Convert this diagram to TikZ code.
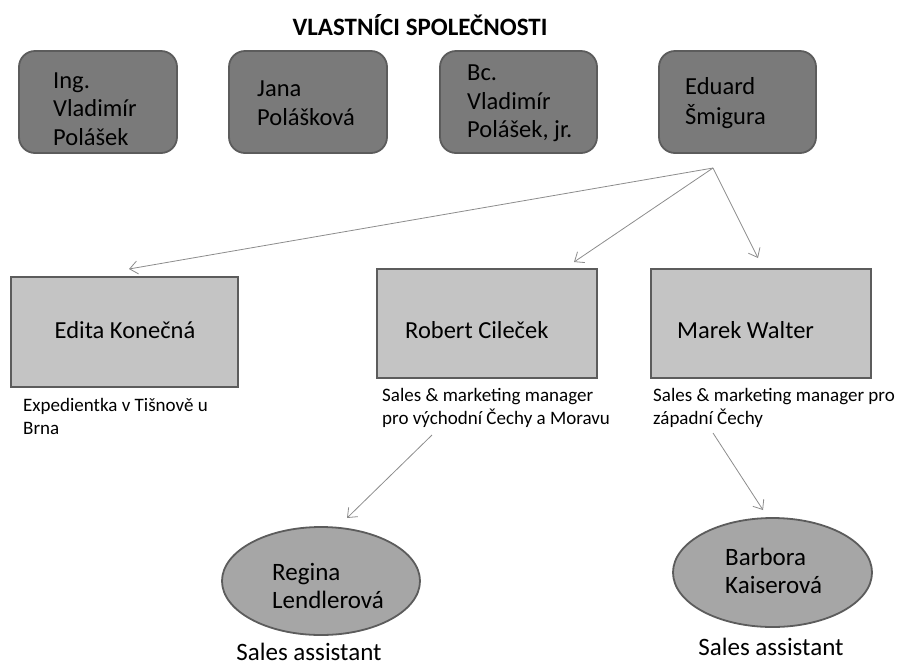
\documentclass[tikz,border=0pt]{standalone}
\usepackage{fontspec}
\setmainfont{Carlito}
\usetikzlibrary{arrows.meta,shapes.geometric}
\definecolor{ownerfill}{HTML}{7A7A7A}
\definecolor{ownerdraw}{HTML}{5C5C5C}
\definecolor{mgrfill}{HTML}{C4C4C4}
\definecolor{ellfill}{HTML}{A6A6A6}
\definecolor{linegray}{HTML}{8C8C8C}
\tikzset{
  owner/.style={draw=ownerdraw, line width=1.8pt, fill=ownerfill, rounded corners=16pt, minimum width=158pt, minimum height=102pt, inner sep=0pt},
  ownertext/.style={anchor=north west, align=left, font=\fontsize{24.5}{28.5}\selectfont, inner sep=0pt},
  mgr/.style={draw=ownerdraw, line width=1.8pt, fill=mgrfill, minimum width=220pt, minimum height=109pt, inner sep=0pt},
  mgrtext/.style={font=\fontsize{24.5}{28.5}\selectfont, inner sep=0pt},
  caption/.style={anchor=north west, align=left, font=\fontsize{19}{22.5}\selectfont, inner sep=0pt},
  asst/.style={ellipse, draw=ownerdraw, line width=1.8pt, fill=ellfill, minimum width=198pt, minimum height=108pt, inner sep=0pt},
  assttext/.style={anchor=north west, align=left, font=\fontsize{25}{28}\selectfont, inner sep=0pt},
  role/.style={anchor=base, font=\fontsize{25}{28}\selectfont, inner sep=0pt},
  conn/.style={draw=linegray, line width=0.8pt, -{Straight Barb[length=8pt,width=13pt]}},
}
\begin{document}
\begin{tikzpicture}[x=1pt,y=-1pt]
\useasboundingbox (0,0) rectangle (899,665);
\node[font=\bfseries\fontsize{25}{28}\selectfont, inner sep=0pt] (title) at (420,25) {VLASTNÍCI SPOLEČNOSTI};
% owners
\node[owner] (o1) at (98,102) {};
\node[owner] (o2) at (308,102) {};
\node[owner, minimum width=157pt] (o3) at (518.5,102) {};
\node[owner, minimum width=157pt] (o4) at (737.5,102) {};
\node[ownertext] (t1) at (53,68) {\strut Ing.\\Vladimír\\Polášek};
\node[ownertext] (t2) at (257,76.5) {\strut Jana\\Polášková};
\node[ownertext] (t3) at (467,60.5) {\strut Bc.\\Vladimír\\Polášek, jr.};
\node[ownertext] (t4) at (685,74.5) {\strut Eduard\\Šmigura};
% managers
\node[mgr, minimum width=227pt, minimum height=110pt] (m1) at (124.5,332) {};
\node[mgr] (m2) at (487,323.5) {};
\node[mgr] (m3) at (761,323.5) {};
\node[mgrtext, anchor=base] (mt1) at (125,338) {Edita Konečná};
\node[mgrtext, anchor=base west] (mt2) at (405,338) {Robert Cileček};
\node[mgrtext, anchor=base west] (mt3) at (677,338) {Marek Walter};
\node[caption] (c1) at (23,396) {\strut Expedientka v Tišnově u\\Brna};
\node[caption] (c2) at (382,386) {\strut Sales \& marketing manager\\pro východní Čechy a Moravu};
\node[caption] (c3) at (653,386) {\strut Sales \& marketing manager pro\\západní Čechy};
% assistants
\node[asst] (a1) at (321,581) {};
\node[asst, minimum width=199pt, minimum height=109pt] (a2) at (772.5,572.5) {};
\node[assttext] (at1) at (272,560.4) {\strut Regina\\Lendlerová};
\node[assttext] (at2) at (725,545.4) {\strut Barbora\\Kaiserová};
\node[role] (s1) at (309,660) {Sales assistant};
\node[role] (s2) at (771,655) {Sales assistant};
% connectors
\coordinate (src) at (713,168);
\coordinate (e1) at (129,269);
\coordinate (e2) at (574,262);
\coordinate (e3) at (758,258);
\coordinate (src2) at (432,435);
\coordinate (e4) at (347,518);
\coordinate (src3) at (713,433);
\coordinate (e5) at (763,510);
\draw[conn] (src) -- (e1);
\draw[conn] (src) -- (e2);
\draw[conn] (src) -- (e3);
\draw[conn] (src2) -- (e4);
\draw[conn] (src3) -- (e5);
\end{tikzpicture}
\end{document}
